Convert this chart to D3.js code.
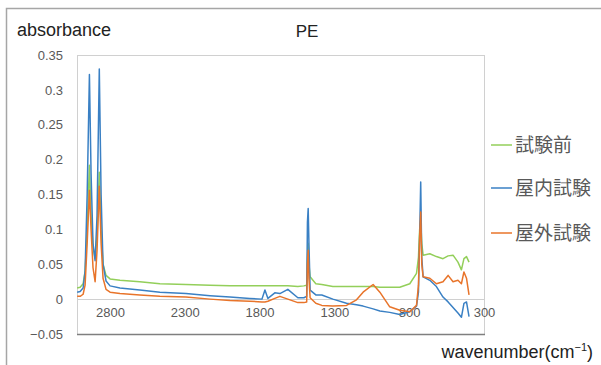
<!DOCTYPE html>
<html>
<head>
<meta charset="utf-8">
<script src="https://cdn.jsdelivr.net/npm/d3@7"></script>
<style>
  body { margin: 0; background: #fff; }
  svg { display: block; }
</style>
</head>
<body>
<div id="chart"></div>
<script>
// Data -------------------------------------
var wavenumbers = [3019, 2999, 2979, 2966, 2952, 2937, 2926, 2913, 2899, 2886, 2871, 2859, 2846, 2826,
  2799, 2733, 2600, 2466, 2292, 2131, 1998, 1865, 1784, 1764, 1744, 1698, 1664, 1611, 1544, 1504,
  1485, 1480, 1475, 1470, 1462, 1424, 1384, 1310, 1219, 1152, 1108, 1041, 996, 930, 863, 796, 751,
  738, 730, 723, 716, 707, 662, 618, 574, 540, 507, 474, 451, 434, 417, 400];

var before = [0.016, 0.017, 0.022, 0.04, 0.10, 0.192, 0.12, 0.075, 0.058, 0.09, 0.182, 0.10, 0.05, 0.034,
  0.029, 0.027, 0.025, 0.022, 0.021, 0.020, 0.019, 0.019, 0.019, 0.019, 0.019, 0.019, 0.019, 0.019, 0.018, 0.019,
  0.020, 0.06, 0.08, 0.05, 0.032, 0.022, 0.021, 0.018, 0.018, 0.018, 0.018, 0.018, 0.017, 0.017, 0.017, 0.022, 0.037,
  0.06, 0.10, 0.113, 0.08, 0.063, 0.065, 0.061, 0.058, 0.062, 0.063, 0.053, 0.042, 0.058, 0.061, 0.053];

var indoor = [0.010, 0.011, 0.016, 0.04, 0.15, 0.322, 0.18, 0.08, 0.055, 0.12, 0.330, 0.15, 0.05, 0.026,
  0.019, 0.016, 0.013, 0.010, 0.008, 0.005, 0.003, 0.001, 0.000, 0.013, 0.001, 0.009, 0.008, 0.014, 0.002, 0.002,
  0.004, 0.11, 0.130, 0.08, 0.013, 0.006, 0.006, 0.000, -0.006, -0.008, -0.010, -0.014, -0.017, -0.019, -0.022, -0.018, -0.010,
  0.01, 0.09, 0.168, 0.06, 0.032, 0.027, 0.018, 0.003, -0.004, -0.012, -0.020, -0.026, -0.006, -0.004, -0.025];

var outdoor = [0.004, 0.004, 0.007, 0.02, 0.08, 0.156, 0.10, 0.045, 0.025, 0.07, 0.162, 0.08, 0.03, 0.014,
  0.010, 0.008, 0.006, 0.004, 0.003, 0.000, -0.002, -0.003, -0.004, -0.004, -0.003, 0.001, 0.004, 0.000, -0.005, -0.005,
  -0.004, 0.05, 0.07, 0.03, 0.002, -0.006, -0.009, -0.010, -0.009, -0.001, 0.010, 0.021, 0.010, -0.011, -0.016, -0.018, -0.009,
  0.02, 0.09, 0.125, 0.05, 0.032, 0.030, 0.022, 0.025, 0.034, 0.025, 0.027, 0.022, 0.039, 0.030, 0.006];

var seriesNames = ['試験前', '屋内試験', '屋外試験'];
var seriesValues = [before, indoor, outdoor];
var seriesColors = ['#93cf5a', '#3a80c4', '#e8742a'];

var xTicks = [2800, 2300, 1800, 1300, 800, 300];
var yTicks = [-0.05, 0, 0.05, 0.1, 0.15, 0.2, 0.25, 0.3, 0.35];

// Layout -------------------------------------
var width = 601;
var height = 365;
var plot = { left: 77, right: 484, top: 55, bottom: 334 };
var fontFamily = '"Liberation Sans", Arial, sans-serif';
var textColor = '#595959';

var svg = d3.select('#chart')
  .append('svg')
  .attr('width', width)
  .attr('height', height);

// outer frame
svg.append('path')
  .attr('d', 'M6.5,' + height + 'V8.5H' + width)
  .attr('fill', 'none')
  .attr('stroke', '#a6a6a6')
  .attr('stroke-width', 1.5);

// Scales -------------------------------------
var x = d3.scaleLinear()
  .domain([3020, 300])
  .range([plot.left, plot.right]);

var y = d3.scaleLinear()
  .domain([-0.05, 0.35])
  .range([plot.bottom, plot.top]);

// Plot area border
svg.append('rect')
  .attr('x', plot.left + 0.5)
  .attr('y', plot.top + 0.5)
  .attr('width', plot.right - plot.left)
  .attr('height', plot.bottom - plot.top)
  .attr('fill', 'none')
  .attr('stroke', '#d0d0d0');

svg.append('line')
  .attr('x1', plot.left)
  .attr('x2', plot.right + 1)
  .attr('y1', plot.bottom + 0.5)
  .attr('y2', plot.bottom + 0.5)
  .attr('stroke', '#7f7f7f')
  .attr('stroke-width', 1.5);

// zero line
svg.append('line')
  .attr('x1', plot.left)
  .attr('x2', plot.right)
  .attr('y1', Math.round(y(0)) + 0.5)
  .attr('y2', Math.round(y(0)) + 0.5)
  .attr('stroke', '#d0d0d0');

// Y axis labels -------------------------------------
var yAxis = d3.axisLeft(y)
  .tickValues(yTicks)
  .tickSize(0)
  .tickPadding(14)
  .tickFormat(function(d) { return d3.format('')(+d.toFixed(2)); });

var yAxisG = svg.append('g')
  .attr('transform', 'translate(' + plot.left + ',0)')
  .call(yAxis);
yAxisG.select('.domain').remove();
yAxisG.selectAll('text')
  .attr('fill', textColor)
  .style('font-family', fontFamily)
  .style('font-size', '13px');

// X axis labels (sitting under the zero line)
var xAxis = d3.axisBottom(x)
  .tickValues(xTicks)
  .tickSize(0)
  .tickPadding(14)
  .tickFormat(d3.format('d'));

var xAxisG = svg.append('g')
  .attr('transform', 'translate(0,' + (y(0) - 5) + ')')
  .call(xAxis);
xAxisG.select('.domain').remove();
xAxisG.selectAll('text')
  .attr('fill', textColor)
  .style('font-family', fontFamily)
  .style('font-size', '13px');

// Lines -------------------------------------
var line = d3.line()
  .x(function(d) { return x(d[0]); })
  .y(function(d) { return y(d[1]); });

seriesValues.forEach(function(values, i) {
  svg.append('path')
    .datum(d3.zip(wavenumbers, values))
    .attr('d', line)
    .attr('fill', 'none')
    .attr('stroke', seriesColors[i])
    .attr('stroke-width', 1.5)
    .attr('stroke-linejoin', 'round');
});

// Titles -------------------------------------
svg.append('text')
  .attr('x', 17)
  .attr('y', 36)
  .attr('fill', '#222')
  .style('font-family', fontFamily)
  .style('font-size', '18px')
  .text('absorbance');

svg.append('text')
  .attr('x', 307)
  .attr('y', 37)
  .attr('text-anchor', 'middle')
  .attr('fill', '#222')
  .style('font-family', fontFamily)
  .style('font-size', '17px')
  .text('PE');

var xTitle = svg.append('text')
  .attr('x', 593)
  .attr('y', 358)
  .attr('text-anchor', 'end')
  .attr('fill', '#222')
  .style('font-family', fontFamily)
  .style('font-size', '18px');
xTitle.append('tspan').text('wavenumber(cm');
xTitle.append('tspan').attr('dy', -7).style('font-size', '11px').text('−1');
xTitle.append('tspan').attr('dy', 7).text(')');

// Legend -------------------------------------
var legendY = [145, 188, 233];
var legend = svg.selectAll('.legend')
  .data(seriesNames)
  .enter()
  .append('g')
  .attr('class', 'legend')
  .attr('transform', function(d, i) { return 'translate(491,' + legendY[i] + ')'; });

legend.append('line')
  .attr('x1', 0)
  .attr('x2', 21)
  .attr('stroke', function(d, i) { return seriesColors[i]; })
  .attr('stroke-width', 1.5);

legend.append('text')
  .attr('x', 24)
  .attr('y', 7)
  .attr('fill', textColor)
  .style('font-family', '"Noto Sans CJK JP", sans-serif')
  .style('font-size', '19px')
  .text(function(d) { return d; });
</script>
</body>
</html>
